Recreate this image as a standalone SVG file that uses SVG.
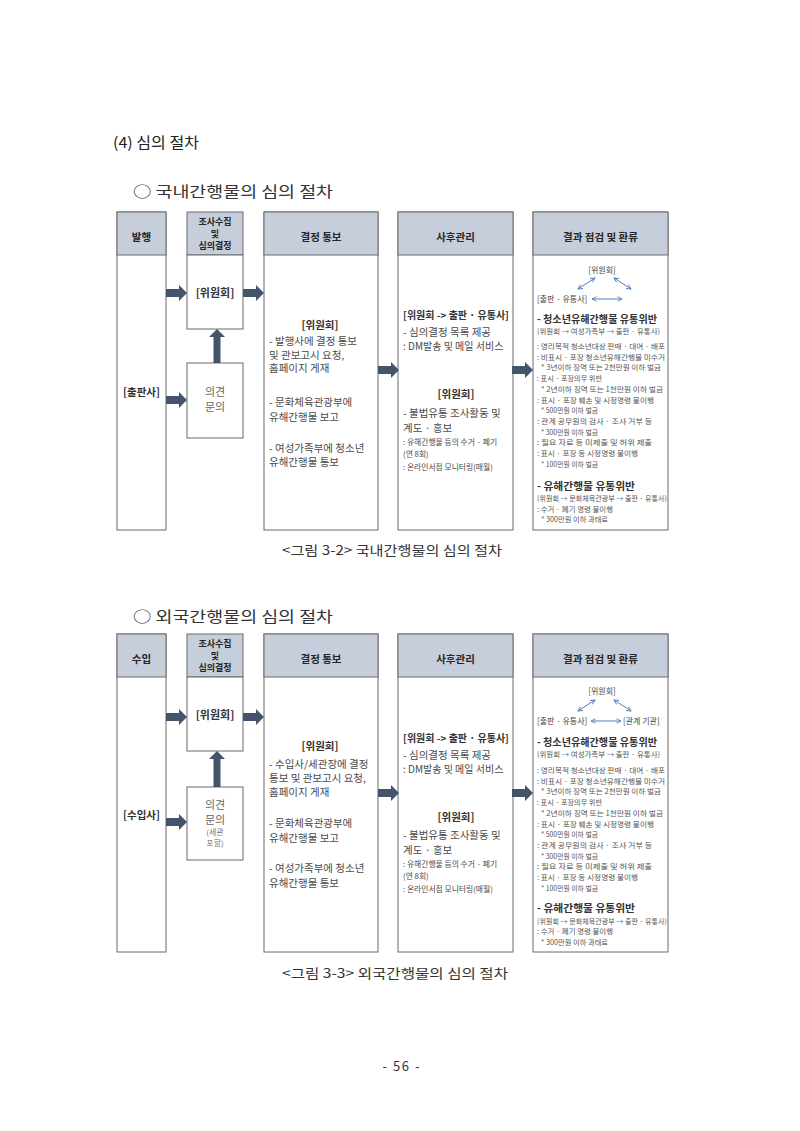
<svg xmlns="http://www.w3.org/2000/svg" width="800" height="1131" viewBox="0 0 800 1131">
<style>
text{font-family:"Noto Sans CJK KR","Noto Sans",sans-serif;}
.bg{fill:#ffffff;}
.box{fill:#ffffff;stroke:#6b6b6b;stroke-width:1;}
.hdr{fill:#c7cedb;stroke:#6b6b6b;stroke-width:1;}
.ht{font-size:10.5px;font-weight:bold;fill:#262626;text-anchor:middle;}
.ht2{font-size:9px;font-weight:bold;fill:#262626;text-anchor:middle;}
.lb{font-size:10.5px;font-weight:bold;fill:#333;text-anchor:middle;}
.bt{font-size:10.5px;fill:#4a4a4a;}
.sm{font-size:7.8px;fill:#4a4a4a;}
.op{font-size:11px;fill:#666;text-anchor:middle;font-family:"Noto Sans CJK KR",serif;}
.op2{font-size:8px;fill:#777;text-anchor:middle;}
.r5{font-size:7.4px;fill:#555;}
.r5b{font-size:10.5px;font-weight:bold;fill:#333;}
.r5s{font-size:7px;fill:#555;}
.r5h{font-size:8px;fill:#444;}
.bl{fill:#4f81bd;}
.arw{fill:#44546a;}
.dbl{stroke:#4f81bd;stroke-width:1;fill:none;marker-start:url(#oa);marker-end:url(#oa);}
.ti{font-size:15px;fill:#222;}
.sub{font-size:15px;fill:#333;}
.cap{font-size:13px;fill:#333;}
</style>
<defs>
<path id="ha" d="M0,-4 H13 V-8 L21,0 L13,8 V4 H0 Z"/>
<marker id="oa" viewBox="0 0 8 8" refX="7" refY="4" markerWidth="6" markerHeight="6" orient="auto-start-reverse" markerUnits="userSpaceOnUse">
<path d="M1,1 L7,4 L1,7" fill="none" stroke="#4f81bd" stroke-width="1.2"/>
</marker>
</defs>
<rect class="bg" x="0" y="0" width="800" height="1131"/>

<text class="ti" x="113" y="148" textLength="86" lengthAdjust="spacingAndGlyphs">(4) 심의 절차</text>
<text class="sub" x="133" y="197" textLength="200" lengthAdjust="spacingAndGlyphs">○ 국내간행물의 심의 절차</text>

<!-- ===== Diagram 1 ===== -->
<g id="d1-col1">
<rect class="box" x="117" y="212" width="49" height="318"/>
<rect class="hdr" x="117" y="212" width="49" height="43"/>
<text class="ht" x="141.5" y="241">발행</text>
<text class="lb" x="141.5" y="396">[출판사]</text>
</g>
<g id="d1-col2">
<rect class="hdr" x="187" y="212" width="56" height="43"/>
<text class="ht2" x="215" y="225">조사수집</text>
<text class="ht2" x="215" y="237">및</text>
<text class="ht2" x="215" y="249">심의결정</text>
<rect class="box" x="187" y="255" width="56" height="74"/>
<text class="lb" x="215" y="297" style="font-size:11px">[위원회]</text>
</g>
<g id="d1-opinion">
<rect class="box" x="187" y="363" width="56" height="75"/>
<text class="op" x="215" y="396">의견</text>
<text class="op" x="215" y="411">문의</text>
</g>
<g id="d1-col3">
<rect class="box" x="264" y="212" width="114" height="318"/>
<rect class="hdr" x="264" y="212" width="114" height="43"/>
<text class="ht" x="321" y="241">결정 통보</text>
<text class="lb" x="320" y="329">[위원회]</text>
<text class="bt" x="269" y="345">- 발행사에 결정 통보</text>
<text class="bt" x="269" y="359">및 관보고시 요청,</text>
<text class="bt" x="269" y="372">홈페이지 게재</text>
<text class="bt" x="269" y="406">- 문화체육관광부에</text>
<text class="bt" x="269" y="421">유해간행물 보고</text>
<text class="bt" x="269" y="452">- 여성가족부에 청소년</text>
<text class="bt" x="269" y="466">유해간행물 통보</text>
</g>
<g id="d1-col4">
<rect class="box" x="398" y="212" width="115" height="318"/>
<rect class="hdr" x="398" y="212" width="115" height="43"/>
<text class="ht" x="455.5" y="241">사후관리</text>
<text class="lb" x="456" y="319" style="font-size:10px">[위원회 -&gt; 출판 · 유통사]</text>
<text class="bt" x="403" y="336">- 심의결정 목록 제공</text>
<text class="bt" x="403" y="350" style="font-size:10px">: DM발송 및 메일 서비스</text>
<text class="lb" x="456" y="398">[위원회]</text>
<text class="bt" x="403" y="417">- 불법유통 조사활동 및</text>
<text class="bt" x="403" y="432">계도 · 홍보</text>
<text class="sm" x="403" y="445">: 유해간행물 등의 수거 · 폐기</text>
<text class="sm" x="403" y="457">(연 8회)</text>
<text class="sm" x="403" y="470">: 온라인서점 모니터링(매월)</text>
</g>
<g id="d1-col5">
<rect class="box" x="533" y="212" width="135" height="318"/>
<rect class="hdr" x="533" y="212" width="135" height="43"/>
<text class="ht" x="600.5" y="241">결과 점검 및 환류</text>
<text class="r5h" x="602" y="273" text-anchor="middle">[위원회]</text>
<text class="r5h" x="537" y="302">[출판 · 유통사]</text>
<line class="dbl" x1="578" y1="289" x2="595" y2="278"/>
<line class="dbl" x1="614" y1="278" x2="631" y2="289"/>
<line class="dbl" x1="592" y1="299" x2="622" y2="299"/>
<text class="r5b" x="537" y="323" textLength="120" lengthAdjust="spacingAndGlyphs">- 청소년유해간행물 유통위반</text>
<text class="r5s" x="537" y="334" textLength="123" lengthAdjust="spacingAndGlyphs">(위원회 <tspan class="bl">→</tspan> 여성가족부 <tspan class="bl">→</tspan> 출판 · 유통사)</text>
<text class="r5" x="537" y="349" textLength="128" lengthAdjust="spacingAndGlyphs">: 영리목적 청소년대상 판매 · 대여 · 배포</text>
<text class="r5" x="537" y="359.7" textLength="128" lengthAdjust="spacingAndGlyphs">: 비표시 · 포장 청소년유해간행물 미수거</text>
<text class="r5" x="541" y="370.4" textLength="120" lengthAdjust="spacingAndGlyphs">* 3년이하 징역 또는 2천만원 이하 벌금</text>
<text class="r5" x="537" y="381.1" textLength="65" lengthAdjust="spacingAndGlyphs">: 표시 · 포장의무 위반</text>
<text class="r5" x="541" y="391.8" textLength="122" lengthAdjust="spacingAndGlyphs">* 2년이하 징역 또는 1천만원 이하 벌금</text>
<text class="r5" x="537" y="402.5" textLength="117" lengthAdjust="spacingAndGlyphs">: 표시 · 포장 훼손 및 시정명령 불이행</text>
<text class="r5" x="541" y="413.2" textLength="57" lengthAdjust="spacingAndGlyphs">* 500만원 이하 벌금</text>
<text class="r5" x="537" y="423.9" textLength="115" lengthAdjust="spacingAndGlyphs">: 관계 공무원의 검사 · 조사 거부 등</text>
<text class="r5" x="541" y="434.6" textLength="57" lengthAdjust="spacingAndGlyphs">* 300만원 이하 벌금</text>
<text class="r5" x="537" y="445.3" textLength="115" lengthAdjust="spacingAndGlyphs">: 필요 자료 등 미제출 및 허위 제출</text>
<text class="r5" x="537" y="456" textLength="101" lengthAdjust="spacingAndGlyphs">: 표시 · 포장 등 시정명령 불이행</text>
<text class="r5" x="541" y="466.7" textLength="57" lengthAdjust="spacingAndGlyphs">* 100만원 이하 벌금</text>
<text class="r5b" x="537" y="490" textLength="98" lengthAdjust="spacingAndGlyphs">- 유해간행물 유통위반</text>
<text class="r5s" x="537" y="501" textLength="130" lengthAdjust="spacingAndGlyphs">(위원회 <tspan class="bl">→</tspan> 문화체육관광부 <tspan class="bl">→</tspan> 출판 · 유통사)</text>
<text class="r5" x="537" y="511.5" textLength="76" lengthAdjust="spacingAndGlyphs">: 수거 · 폐기 명령 불이행</text>
<text class="r5" x="541" y="522" textLength="67" lengthAdjust="spacingAndGlyphs">* 300만원 이하 과태료</text>
</g>
<g id="d1-connectors" class="arw">
<use href="#ha" x="166" y="293"/>
<use href="#ha" x="166" y="400"/>
<use href="#ha" x="243" y="293"/>
<use href="#ha" x="378" y="370"/>
<use href="#ha" x="512" y="370"/>
<path d="M213.5,363 V337 H209 L217,329 L225,337 H220.5 V363 Z"/>
</g>
<text class="cap" x="392" y="555" text-anchor="middle" textLength="220" lengthAdjust="spacingAndGlyphs">&lt;그림 3-2&gt; 국내간행물의 심의 절차</text>

<text class="sub" x="133" y="622" textLength="200" lengthAdjust="spacingAndGlyphs">○ 외국간행물의 심의 절차</text>

<!-- ===== Diagram 2 ===== -->
<g id="d2-col1">
<rect class="box" x="117" y="634" width="49" height="318"/>
<rect class="hdr" x="117" y="634" width="49" height="43"/>
<text class="ht" x="141.5" y="663">수입</text>
<text class="lb" x="141.5" y="819">[수입사]</text>
</g>
<g id="d2-col2">
<rect class="hdr" x="187" y="634" width="56" height="43"/>
<text class="ht2" x="215" y="647">조사수집</text>
<text class="ht2" x="215" y="659">및</text>
<text class="ht2" x="215" y="671">심의결정</text>
<rect class="box" x="187" y="677" width="56" height="74"/>
<text class="lb" x="215" y="719" style="font-size:11px">[위원회]</text>
</g>
<g id="d2-opinion">
<rect class="box" x="187" y="787" width="56" height="73"/>
<text class="op" x="215" y="809">의견</text>
<text class="op" x="215" y="824">문의</text>
<text class="op2" x="215" y="835">(세관</text>
<text class="op2" x="215" y="846">포함)</text>
</g>
<g id="d2-col3">
<rect class="box" x="264" y="634" width="114" height="318"/>
<rect class="hdr" x="264" y="634" width="114" height="43"/>
<text class="ht" x="321" y="663">결정 통보</text>
<text class="lb" x="320" y="750">[위원회]</text>
<text class="bt" x="269" y="768">- 수입사/세관장에 결정</text>
<text class="bt" x="269" y="782">통보 및 관보고시 요청,</text>
<text class="bt" x="269" y="796">홈페이지 게재</text>
<text class="bt" x="269" y="827">- 문화체육관광부에</text>
<text class="bt" x="269" y="842">유해간행물 보고</text>
<text class="bt" x="269" y="872">- 여성가족부에 청소년</text>
<text class="bt" x="269" y="887">유해간행물 통보</text>
</g>
<g id="d2-col4">
<rect class="box" x="398" y="634" width="115" height="318"/>
<rect class="hdr" x="398" y="634" width="115" height="43"/>
<text class="ht" x="455.5" y="663">사후관리</text>
<text class="lb" x="456" y="742" style="font-size:10px">[위원회 -&gt; 출판 · 유통사]</text>
<text class="bt" x="403" y="759">- 심의결정 목록 제공</text>
<text class="bt" x="403" y="773" style="font-size:10px">: DM발송 및 메일 서비스</text>
<text class="lb" x="456" y="821">[위원회]</text>
<text class="bt" x="403" y="839">- 불법유통 조사활동 및</text>
<text class="bt" x="403" y="854">계도 · 홍보</text>
<text class="sm" x="403" y="867">: 유해간행물 등의 수거 · 폐기</text>
<text class="sm" x="403" y="879">(연 8회)</text>
<text class="sm" x="403" y="892">: 온라인서점 모니터링(매월)</text>
</g>
<g id="d2-col5">
<rect class="box" x="533" y="634" width="135" height="318"/>
<rect class="hdr" x="533" y="634" width="135" height="43"/>
<text class="ht" x="600.5" y="663">결과 점검 및 환류</text>
<text class="r5h" x="602" y="694" text-anchor="middle">[위원회]</text>
<text class="r5h" x="537" y="724">[출판 · 유통사]</text>
<text class="r5h" x="623" y="724">[관계 기관]</text>
<line class="dbl" x1="578" y1="711" x2="595" y2="700"/>
<line class="dbl" x1="614" y1="700" x2="631" y2="711"/>
<line class="dbl" x1="591" y1="721" x2="621" y2="721"/>
<text class="r5b" x="537" y="746" textLength="120" lengthAdjust="spacingAndGlyphs">- 청소년유해간행물 유통위반</text>
<text class="r5s" x="537" y="757" textLength="123" lengthAdjust="spacingAndGlyphs">(위원회 <tspan class="bl">→</tspan> 여성가족부 <tspan class="bl">→</tspan> 출판 · 유통사)</text>
<text class="r5" x="537" y="773" textLength="128" lengthAdjust="spacingAndGlyphs">: 영리목적 청소년대상 판매 · 대여 · 배포</text>
<text class="r5" x="537" y="783.7" textLength="128" lengthAdjust="spacingAndGlyphs">: 비표시 · 포장 청소년유해간행물 미수거</text>
<text class="r5" x="541" y="794.4" textLength="120" lengthAdjust="spacingAndGlyphs">* 3년이하 징역 또는 2천만원 이하 벌금</text>
<text class="r5" x="537" y="805.1" textLength="65" lengthAdjust="spacingAndGlyphs">: 표시 · 포장의무 위반</text>
<text class="r5" x="541" y="815.8" textLength="122" lengthAdjust="spacingAndGlyphs">* 2년이하 징역 또는 1천만원 이하 벌금</text>
<text class="r5" x="537" y="826.5" textLength="117" lengthAdjust="spacingAndGlyphs">: 표시 · 포장 훼손 및 시정명령 불이행</text>
<text class="r5" x="541" y="837.2" textLength="57" lengthAdjust="spacingAndGlyphs">* 500만원 이하 벌금</text>
<text class="r5" x="537" y="847.9" textLength="115" lengthAdjust="spacingAndGlyphs">: 관계 공무원의 검사 · 조사 거부 등</text>
<text class="r5" x="541" y="858.6" textLength="57" lengthAdjust="spacingAndGlyphs">* 300만원 이하 벌금</text>
<text class="r5" x="537" y="869.3" textLength="115" lengthAdjust="spacingAndGlyphs">: 필요 자료 등 미제출 및 허위 제출</text>
<text class="r5" x="537" y="880" textLength="101" lengthAdjust="spacingAndGlyphs">: 표시 · 포장 등 시정명령 불이행</text>
<text class="r5" x="541" y="890.7" textLength="57" lengthAdjust="spacingAndGlyphs">* 100만원 이하 벌금</text>
<text class="r5b" x="537" y="912" textLength="98" lengthAdjust="spacingAndGlyphs">- 유해간행물 유통위반</text>
<text class="r5s" x="537" y="923.5" textLength="130" lengthAdjust="spacingAndGlyphs">(위원회 <tspan class="bl">→</tspan> 문화체육관광부 <tspan class="bl">→</tspan> 출판 · 유통사)</text>
<text class="r5" x="537" y="934" textLength="76" lengthAdjust="spacingAndGlyphs">: 수거 · 폐기 명령 불이행</text>
<text class="r5" x="541" y="944.5" textLength="67" lengthAdjust="spacingAndGlyphs">* 300만원 이하 과태료</text>
</g>
<g id="d2-connectors" class="arw">
<use href="#ha" x="166" y="717"/>
<use href="#ha" x="166" y="822"/>
<use href="#ha" x="243" y="717"/>
<use href="#ha" x="378" y="793"/>
<use href="#ha" x="512" y="793"/>
<path d="M213.5,787 V759 H209 L217,751 L225,759 H220.5 V787 Z"/>
</g>
<text class="cap" x="395" y="978" text-anchor="middle" textLength="226" lengthAdjust="spacingAndGlyphs">&lt;그림 3-3&gt; 외국간행물의 심의 절차</text>

<text class="cap" x="401" y="1071" text-anchor="middle" textLength="37" lengthAdjust="spacing">- 56 -</text>
</svg>
